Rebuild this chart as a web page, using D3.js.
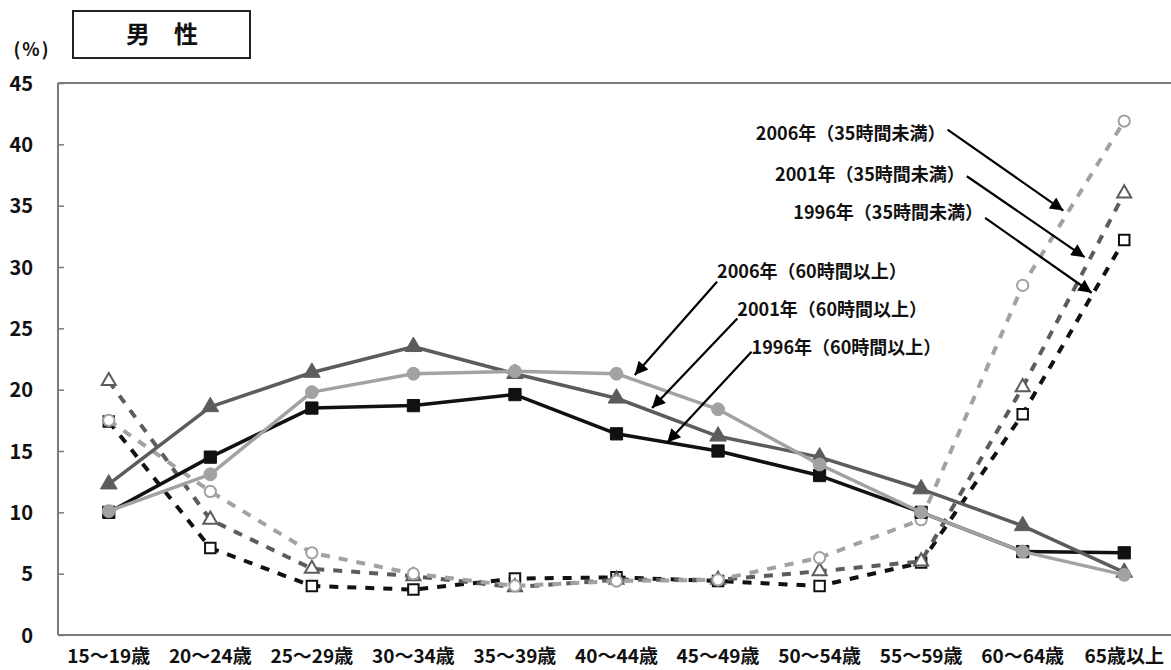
<!DOCTYPE html>
<html lang="ja">
<head>
<meta charset="utf-8">
<script src="https://cdn.jsdelivr.net/npm/d3@7"></script>
<style>
  html, body { margin: 0; padding: 0; background: #fff; }
  svg { display: block; }
  text { font-family: "Noto Sans CJK JP", "Noto Sans", sans-serif; fill: #111; }
</style>
</head>
<body>
<svg id="chart" width="1171" height="670"></svg>
<script>
// 年齢階級
const categories = ["15～19歳", "20～24歳", "25～29歳", "30～34歳", "35～39歳", "40～44歳",
                    "45～49歳", "50～54歳", "55～59歳", "60～64歳", "65歳以上"];

// 週60時間以上の就業者の割合（%）
const long1996 = [10.0, 14.5, 18.5, 18.7, 19.6, 16.4, 15.0, 13.0, 10.0, 6.8, 6.7];
const long2001 = [12.3, 18.6, 21.4, 23.5, 21.3, 19.3, 16.2, 14.5, 11.9, 8.9, 5.1];
const long2006 = [10.1, 13.1, 19.8, 21.3, 21.5, 21.3, 18.4, 13.9, 10.0, 6.8, 4.9];

// 週35時間未満の就業者の割合（%）
const short1996 = [17.4, 7.1, 4.0, 3.7, 4.6, 4.7, 4.4, 4.0, 5.9, 18.0, 32.2];
const short2001 = [20.7, 9.4, 5.4, 4.8, 3.9, 4.5, 4.5, 5.2, 6.0, 20.2, 36.0];
const short2006 = [17.5, 11.7, 6.7, 5.0, 4.0, 4.4, 4.5, 6.3, 9.4, 28.5, 41.9];

const yTicks = [0, 5, 10, 15, 20, 25, 30, 35, 40, 45];

const svg = d3.select("#chart");
const W = 1171, H = 670;
const plot = { left: 58, top: 83, right: 1175, bottom: 635 };

const x = d3.scaleBand().domain(categories).range([plot.left, plot.right]).padding(0);
const y = d3.scaleLinear().domain([0, 45]).range([plot.bottom, plot.top]);
const cx = c => x(c) + x.bandwidth() / 2;
// fractional category position, used to place callouts between points
const xAt = t => cx(categories[0]) + t * x.step();

// frame: left axis, top border, bottom axis
const frame = svg.append("g").attr("stroke", "#7a7a7a").attr("stroke-width", 2).attr("fill", "none");
frame.append("line").attr("x1", plot.left).attr("x2", plot.left).attr("y1", y(45)).attr("y2", y(0));
frame.append("line").attr("x1", plot.left).attr("x2", W).attr("y1", y(45)).attr("y2", y(45));
frame.append("line").attr("x1", plot.left).attr("x2", W).attr("y1", y(0)).attr("y2", y(0));

// y axis ticks and labels
const yAxis = d3.axisLeft(y).tickValues(yTicks).tickSize(-6).tickPadding(0).tickFormat(d3.format("d"));
const gy = svg.append("g").attr("transform", `translate(${plot.left},0)`).call(yAxis);
gy.select(".domain").remove();
gy.selectAll(".tick line").attr("stroke", "#7a7a7a").attr("stroke-width", 1.5);
gy.selectAll(".tick text")
  .attr("x", -25).attr("dy", "0.36em")
  .style("font-size", "20px").style("font-weight", "bold")
  .attr("text-anchor", "end").attr("fill", "#111");

// x axis labels
const xAxis = d3.axisBottom(x).tickSize(0).tickPadding(0);
const gx = svg.append("g").attr("transform", `translate(0,${plot.bottom})`).call(xAxis);
gx.select(".domain").remove();
gx.selectAll(".tick text")
  .attr("y", 21).attr("dy", "0.35em")
  .style("font-size", "19px").style("font-weight", "bold").attr("fill", "#111");

// unit and title box
svg.append("text").attr("x", 32).attr("y", 50).attr("dy", "0.35em").attr("text-anchor", "middle")
  .style("font-size", "18px").style("font-weight", "bold").style("letter-spacing", "2px").text("(%)");
svg.append("rect").attr("x", 73).attr("y", 11).attr("width", 177).attr("height", 47)
  .attr("fill", "#fff").attr("stroke", "#222").attr("stroke-width", 2);
svg.append("text").attr("x", 162).attr("y", 35).attr("dy", "0.35em").attr("text-anchor", "middle")
  .style("font-size", "24px").style("font-weight", "bold").text("男　性");

const line = d3.line().x((d, i) => cx(categories[i])).y(d => y(d));

const series = [
  { values: short1996, color: "#111111", dashed: true, shape: "square" },
  { values: short2001, color: "#5c5c5c", dashed: true, shape: "triangle" },
  { values: short2006, color: "#a2a2a2", dashed: true, shape: "circle" },
  { values: long1996, color: "#111111", dashed: false, shape: "square" },
  { values: long2001, color: "#5c5c5c", dashed: false, shape: "triangle" },
  { values: long2006, color: "#a2a2a2", dashed: false, shape: "circle" }
];

const symbolType = { square: d3.symbolSquare, triangle: d3.symbolTriangle, circle: d3.symbolCircle };

// dashed series first, solid series on top
series.forEach(s => {
  const g = svg.append("g");
  g.append("path")
    .attr("d", line(s.values))
    .attr("fill", "none")
    .attr("stroke", s.color)
    .attr("stroke-width", s.dashed ? 4 : 3.5)
    .attr("stroke-dasharray", s.dashed ? "9,9" : null)
    .attr("stroke-linejoin", "round");
  const size = s.dashed
    ? { square: 110, triangle: 85, circle: 100 }[s.shape]
    : { square: 150, triangle: 120, circle: 130 }[s.shape];
  g.selectAll("path.m")
    .data(s.values)
    .join("path")
    .attr("class", "m")
    .attr("transform", (d, i) => `translate(${cx(categories[i])},${y(d)})`)
    .attr("d", d3.symbol().type(symbolType[s.shape]).size(size))
    .attr("fill", s.dashed ? "#fff" : s.color)
    .attr("stroke", s.color)
    .attr("stroke-width", s.dashed ? 2 : 1);
});

// callouts
const callouts = [
  { text: "2006年（35時間未満）", anchor: "end",   tx: 8.24, tv: 40.9, from: [8.26, 41.2], to: [9.40, 34.6] },
  { text: "2001年（35時間未満）", anchor: "end",   tx: 8.43, tv: 37.5, from: [8.45, 37.4], to: [9.61, 30.8] },
  { text: "1996年（35時間未満）", anchor: "end",   tx: 8.61, tv: 34.4, from: [8.63, 34.0], to: [9.68, 27.9] },
  { text: "2006年（60時間以上）", anchor: "start", tx: 5.99, tv: 29.6, from: [5.99, 28.8], to: [5.18, 21.2] },
  { text: "2001年（60時間以上）", anchor: "start", tx: 6.19, tv: 26.5, from: [6.19, 25.8], to: [5.35, 18.5] },
  { text: "1996年（60時間以上）", anchor: "start", tx: 6.33, tv: 23.4, from: [6.33, 23.1], to: [5.50, 15.7] }
];

svg.append("defs").append("marker")
  .attr("id", "arrow").attr("viewBox", "0 0 10 10")
  .attr("refX", 10).attr("refY", 5)
  .attr("markerWidth", 8).attr("markerHeight", 6).attr("markerUnits", "strokeWidth")
  .attr("orient", "auto")
  .append("path").attr("d", "M0,0 L10,5 L0,10 Z").attr("fill", "#000");

const cg = svg.append("g");
callouts.forEach(c => {
  cg.append("line")
    .attr("x1", xAt(c.from[0])).attr("y1", y(c.from[1]))
    .attr("x2", xAt(c.to[0])).attr("y2", y(c.to[1]))
    .attr("stroke", "#000").attr("stroke-width", 2.2)
    .attr("marker-end", "url(#arrow)");
  cg.append("text")
    .attr("x", xAt(c.tx)).attr("y", y(c.tv)).attr("dy", "0.35em")
    .attr("text-anchor", c.anchor)
    .style("font-size", "18px").style("font-weight", "bold")
    .text(c.text);
});
</script>
</body>
</html>
